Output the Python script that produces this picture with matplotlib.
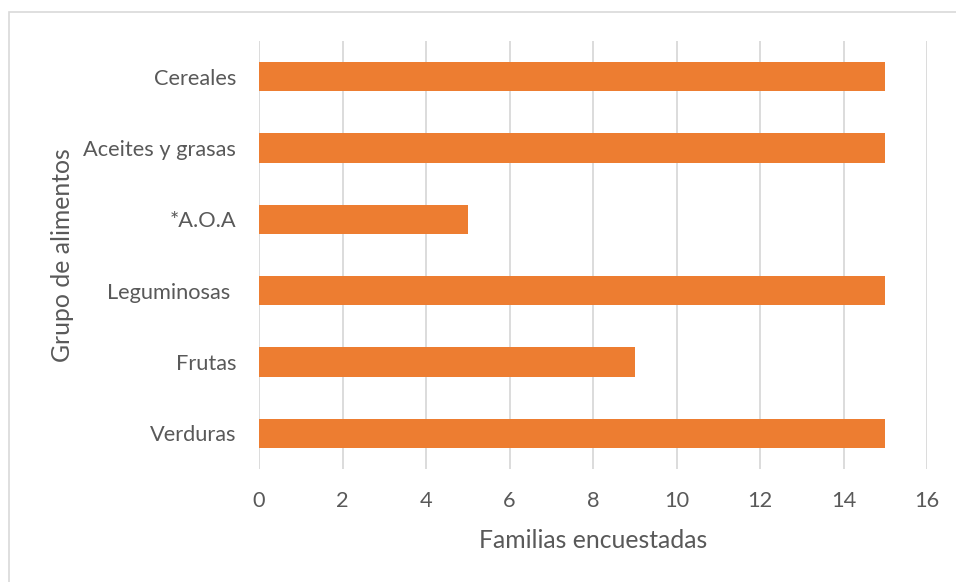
import matplotlib
matplotlib.use("Agg")
import matplotlib.pyplot as plt
from matplotlib.patches import Rectangle

categories = ["Verduras", "Frutas", "Leguminosas ", "*A.O.A", "Aceites y grasas", "Cereales"]
values = [15, 9, 15, 5, 15, 15]
xticks = [0, 2, 4, 6, 8, 10, 12, 14, 16]

BAR = "#ED7D31"
TEXT = "#595959"
GRID = "#D9D9D9"

plt.rcParams["font.family"] = ["Lato", "DejaVu Sans"]

W, H = 956, 582
fig = plt.figure(figsize=(W / 100, H / 100), dpi=100)
fig.patch.set_facecolor("white")

# thin chart-area frame
fig.patches.append(Rectangle((9 / W, -0.1), 1.2, 1.1 - 12 / H,
                             transform=fig.transFigure, fill=False,
                             edgecolor=GRID, linewidth=1.2))

left, right, top, bottom = 259, 927, 41, 469
ax = fig.add_axes([left / W, 1 - bottom / H, (right - left) / W, (bottom - top) / H])
ypos = range(len(categories))
ax.barh(ypos, values, height=0.41, color=BAR, zorder=3)

ax.set_xlim(0, 16)
ax.set_ylim(-0.5, len(categories) - 0.5)
ax.set_xticks(xticks)
ax.set_xticklabels([str(t) for t in xticks])
ax.set_yticks(list(ypos))
ax.set_yticklabels(categories)

for s in ax.spines.values():
    s.set_visible(False)
ax.grid(axis="x", color=GRID, linewidth=1.3, zorder=0)
ax.tick_params(axis="both", length=0, colors=TEXT, labelsize=15.7)
ax.tick_params(axis="x", pad=16)
ax.tick_params(axis="y", pad=16.5)

ax.set_xlabel("Familias encuestadas", color=TEXT, fontsize=17.8, va="center")
ax.set_ylabel("Grupo de alimentos", color=TEXT, fontsize=17.8, va="center")
ax.xaxis.set_label_coords(0.5, (bottom - 540) / (bottom - top))
ax.yaxis.set_label_coords((62 - left) / (right - left), 0.5)

fig.savefig("out.png", dpi=100, facecolor="white")
